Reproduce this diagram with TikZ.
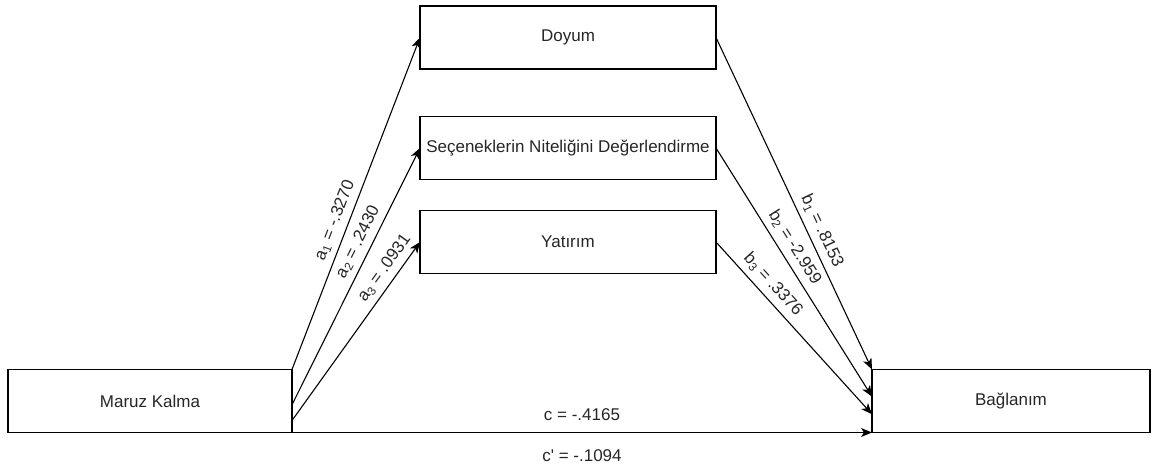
\documentclass[tikz,border=0pt]{standalone}
\usepackage{fontspec}
\setmainfont{Liberation Sans}
\usetikzlibrary{arrows.meta,calc}

\begin{document}
\begin{tikzpicture}[
        x=1pt, y=-1pt,
        every node/.style={font=\fontsize{17}{20}\selectfont, text=black!85},
        kutu/.style={draw, line width=1.2pt, outer sep=0pt, minimum height=63pt},
        arac/.style={kutu, minimum width=296pt},
        yol/.style={-{Stealth[length=11pt,width=9pt,inset=3pt]}, line width=1.1pt},
        etiket/.style={sloped, above=2.5pt}
    ]
    \useasboundingbox (0,0) rectangle (1152,470);

    % Degiskenler
    \node[kutu, minimum width=284pt] (maruz) at (150,401) {Maruz Kalma};
    \node[kutu, minimum width=278pt] (baglanim) at (1011,401) {Bağlanım};

    % Aracilar
    \node[arac] (doyum) at (568,37.5) {Doyum};
    \node[arac] (secenek) at (568,148) {Seçeneklerin Niteliğini Değerlendirme};
    \node[arac] (yatirim) at (568,242) {Yatırım};

    % Baglanti noktalari
    \coordinate (a2) at ($(maruz.north east)!0.56!(maruz.south east)$);
    \coordinate (a3) at ($(maruz.north east)!0.81!(maruz.south east)$);
    \coordinate (b2) at ($(baglanim.north west)!0.43!(baglanim.south west)$);
    \coordinate (b3) at ($(baglanim.north west)!0.71!(baglanim.south west)$);

    % Yollar
    \draw[yol] (maruz.north east) -- node[etiket, pos=0.435] (a1lbl) {a\textsubscript{1} = -.3270} (doyum.west);
    \draw[yol] (a2) -- node[etiket, pos=0.61] (a2lbl) {a\textsubscript{2} = .2430} (secenek.west);
    \draw[yol] (a3) -- node[etiket, pos=0.81] (a3lbl) {a\textsubscript{3} = .0931} (yatirim.west);
    \draw[yol] (doyum.east) -- node[etiket, pos=0.60] (b1lbl) {b\textsubscript{1} = .8153} (baglanim.north west);
    \draw[yol] (secenek.east) -- node[etiket, pos=0.43] (b2lbl) {b\textsubscript{2} = -2.959} (b2);
    \draw[yol] (yatirim.east) -- node[etiket, pos=0.30] (b3lbl) {b\textsubscript{3} = .3376} (b3);
    \draw[yol] (maruz.south east) -- node[above=8pt] (clbl) {c = -.4165}
        node[below=13pt] (cplbl) {c\textquotesingle{} = -.1094} (baglanim.south west);
\end{tikzpicture}
\end{document}
